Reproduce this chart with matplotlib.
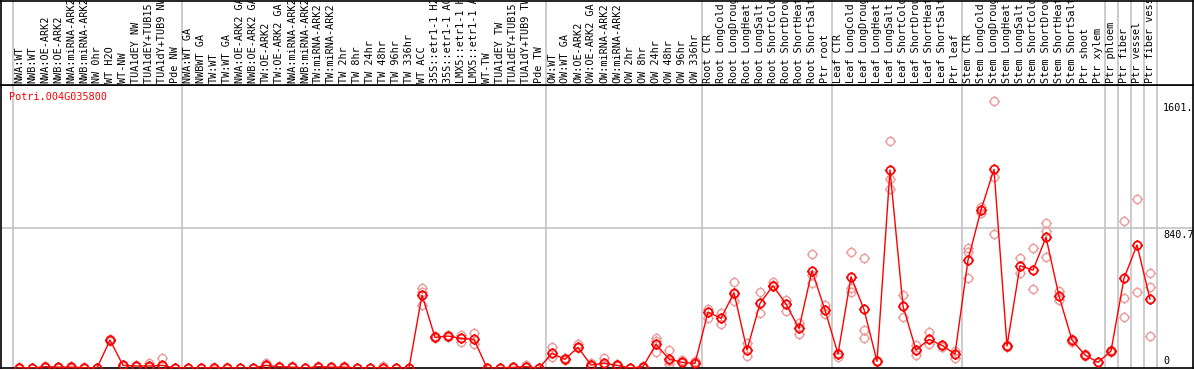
import numpy as np
import matplotlib
matplotlib.use("Agg")
import matplotlib.pyplot as plt
from matplotlib.path import Path

# ==========================================
# data
# ==========================================
GENE = "Potri.004G035800"

labels = [
    "NWA:WT", "NWB:WT", "NWA:OE-ARK2", "NWB:OE-ARK2", "NWA:miRNA-ARK2",
    "NWB:miRNA-ARK2", "NW 0hr", "WT H2O", "WT-NW", "TUA1dEY NW",
    "TUA1dEY+TUB15 NW", "TUA1dY+TUB9 NW", "Pde NW",
    "NWA:WT GA", "NWBWT GA", "TW:WT", "TW:WT GA", "NWA:OE-ARK2 GA",
    "NWB:OE-ARK2 GA", "TW:OE-ARK2", "TW:OE-ARK2 GA", "NWA:miRNA-ARK2",
    "NWB:miRNA-ARK2", "TW:miRNA-ARK2", "TW:miRNA-ARK2", "TW 2hr", "TW 8hr",
    "TW 24hr", "TW 48hr", "TW 96hr", "TW 336hr", "WT ACC",
    "35S::etr1-1 H2O", "35S::etr1-1 ACC", "LMX5::etr1-1 H2O",
    "LMX5::etr1-1 ACC", "WT-TW", "TUA1dEY TW", "TUA1dEY+TUB15 TW",
    "TUA1dY+TUB9 TW", "Pde TW",
    "OW:WT", "OW:WT GA", "OW:OE-ARK2", "OW:OE-ARK2 GA", "OW:miRNA-ARK2",
    "OW:miRNA-ARK2", "OW 2hr", "OW 8hr", "OW 24hr", "OW 48hr", "OW 96hr",
    "OW 336hr",
    "Root CTR", "Root LongCold", "Root LongDrought", "Root LongHeat",
    "Root LongSalt", "Root ShortCold", "Root ShortDrought", "Root ShortHeat",
    "Root ShortSalt", "Ptr root",
    "Leaf CTR", "Leaf LongCold", "Leaf LongDrought", "Leaf LongHeat",
    "Leaf LongSalt", "Leaf ShortCold", "Leaf ShortDrought", "Leaf ShortHeat",
    "Leaf ShortSalt", "Ptr leaf",
    "Stem CTR", "Stem LongCold", "Stem LongDrought", "Stem LongHeat",
    "Stem LongSalt", "Stem ShortCold", "Stem ShortDrought", "Stem ShortHeat",
    "Stem ShortSalt", "Ptr shoot", "Ptr xylem",
    "Ptr phloem", "Ptr fiber", "Ptr vessel", "Ptr fiber vessel",
]

means = [
    2, 0, 8, 5, 5, 2, 0, 168, 16, 12, 12, 16, 0,
    0, 0, 3, 2, 0, 0, 16, 8, 5, 0, 8, 5, 5, 0, 0, 3, 0, 0, 438,
    184, 192, 178, 172, 0, 0, 4, 8, 0,
    88, 52, 124, 18, 28, 16, 0, 8, 142, 54, 34, 28,
    336, 298, 452, 108, 388, 494, 384, 238, 584, 348,
    84, 548, 352, 40, 1189, 372, 108, 172, 136, 84,
    648, 949, 1193, 132, 614, 588, 785, 432, 168, 78, 34,
    102, 538, 739, 414,
]

reps = [
    [4, 0], [0], [12, 6], [8, 3], [15, 3], [4], [0], [175, 160], [20, 12],
    [16, 10], [28, 8], [58, 10], [0],
    [0], [0], [6], [4], [0], [0], [28, 10], [14, 4], [10, 4], [0], [12, 6],
    [8, 2], [10, 2], [0], [0], [12, 2], [0], [0], [482, 458, 378],
    [190, 180], [198, 188], [198, 158], [208, 142], [2], [2], [8, 2],
    [20, 4], [0],
    [128, 64], [58, 46], [142, 118], [30, 10], [58, 20], [24, 10], [2],
    [14, 4], [178, 164, 94], [108, 24, 40], [48, 28], [44, 22],
    [356, 298], [332, 264], [514, 404, 446], [152, 72], [454, 328],
    [518, 500], [408, 344], [268, 202], [682, 508, 556], [378, 322],
    [90, 64], [697, 478, 458], [660, 228, 178], [44, 36], [1363, 1135, 1075],
    [438, 304], [138, 76], [216, 144], [140, 128], [104, 62],
    [718, 698, 538], [969, 929], [1601, 1149, 805], [140, 124], [659, 568],
    [718, 472], [869, 824, 665], [464, 410], [176, 156], [70, 84], [34],
    [110, 96], [883, 418, 308], [1015, 454], [568, 484, 192],
]

grid_after = [0, 13, 41, 53, 63, 73, 84, 85, 86, 87, 88]
ytick_vals = [1601, 840.7, 0]
ytick_text = ["1601.", "840.7", "0"]

# ==========================================
# style
# ==========================================
W, H = 1194, 370
DPI = 100
COL_W = 13
COL0 = 19           # pixel centre of first column
TOP = 85            # header bottom (px from top)
BOTTOM = 368
YMAX = 840.7 * (BOTTOM - TOP) / 140.0
RED = "#ff0000"
PALE = "#ec9a9a"
GRID = "#c4c4c4"
FONT = "DejaVu Sans Mono"
FS = 7.3
MSIZE = 7.8


def px2x(px):
    return (px - COL0) / COL_W


def tick_marker():
    circ = Path.unit_circle()
    segs = []
    for dx, dy in [(0, 1), (0, -1), (1, 0), (-1, 0)]:
        segs.append(Path([(dx, dy), (dx * 1.35, dy * 1.35)],
                         [Path.MOVETO, Path.LINETO]))
    return Path.make_compound_path(circ, *segs)


def main():
    fig = plt.figure(figsize=(W / DPI, H / DPI), dpi=DPI)
    fig.patch.set_facecolor("white")

    left = 0.5 / W
    width = (W - 1.5) / W
    ax = fig.add_axes([left, (H - BOTTOM) / H, width, (BOTTOM - TOP) / H])
    hax = fig.add_axes([left, (H - TOP) / H, width, (TOP - 0.5) / H])

    xl = (px2x(0.5), px2x(W - 1))
    for a in (ax, hax):
        a.set_xlim(*xl)
        a.set_xticks([])
        a.set_yticks([])
        for s in a.spines.values():
            s.set_color("black")
            s.set_linewidth(1.2)
        for k in grid_after:
            a.axvline(k - 0.5, color=GRID, lw=1.2, zorder=0)

    ax.set_ylim(0, YMAX)
    hax.set_ylim(0, 1)

    # horizontal grid
    ax.plot([xl[0], xl[1]], [840.7, 840.7], color=GRID, lw=1.2, zorder=0)

    # header labels
    for i, lab in enumerate(labels):
        hax.text(i, 0.025, lab, rotation=90, ha="center", va="bottom",
                 family=FONT, fontsize=FS, color="black", clip_on=True)

    mk = tick_marker()
    x = np.arange(len(means))

    # replicates
    for i, vals in enumerate(reps):
        ax.plot([i] * len(vals), vals, linestyle="none", marker=mk,
                markersize=MSIZE, markerfacecolor="none", markeredgecolor=PALE,
                markeredgewidth=1.0, zorder=2)

    # mean line
    ax.plot(x, means, color=RED, lw=1.0, zorder=3)
    ax.plot(x, means, linestyle="none", marker=mk, markersize=MSIZE,
            markerfacecolor="none", markeredgecolor=RED, markeredgewidth=1.25,
            zorder=4)

    # gene name
    ax.text(px2x(9), YMAX - 12 * YMAX / (BOTTOM - TOP), GENE, color=RED,
            family=FONT, fontsize=FS, ha="left", va="center")

    # value labels on the right
    xr = px2x(1163)
    for v, t in zip(ytick_vals, ytick_text):
        va = "bottom" if v == 0 else "top"
        yy = v + (2 * YMAX / (BOTTOM - TOP) if v == 0 else -1.5 * YMAX / (BOTTOM - TOP))
        ax.text(xr, yy, t, family=FONT, fontsize=FS, ha="left", va=va,
                color="black", clip_on=True)

    fig.savefig("out.png", dpi=DPI)


if __name__ == "__main__":
    main()
